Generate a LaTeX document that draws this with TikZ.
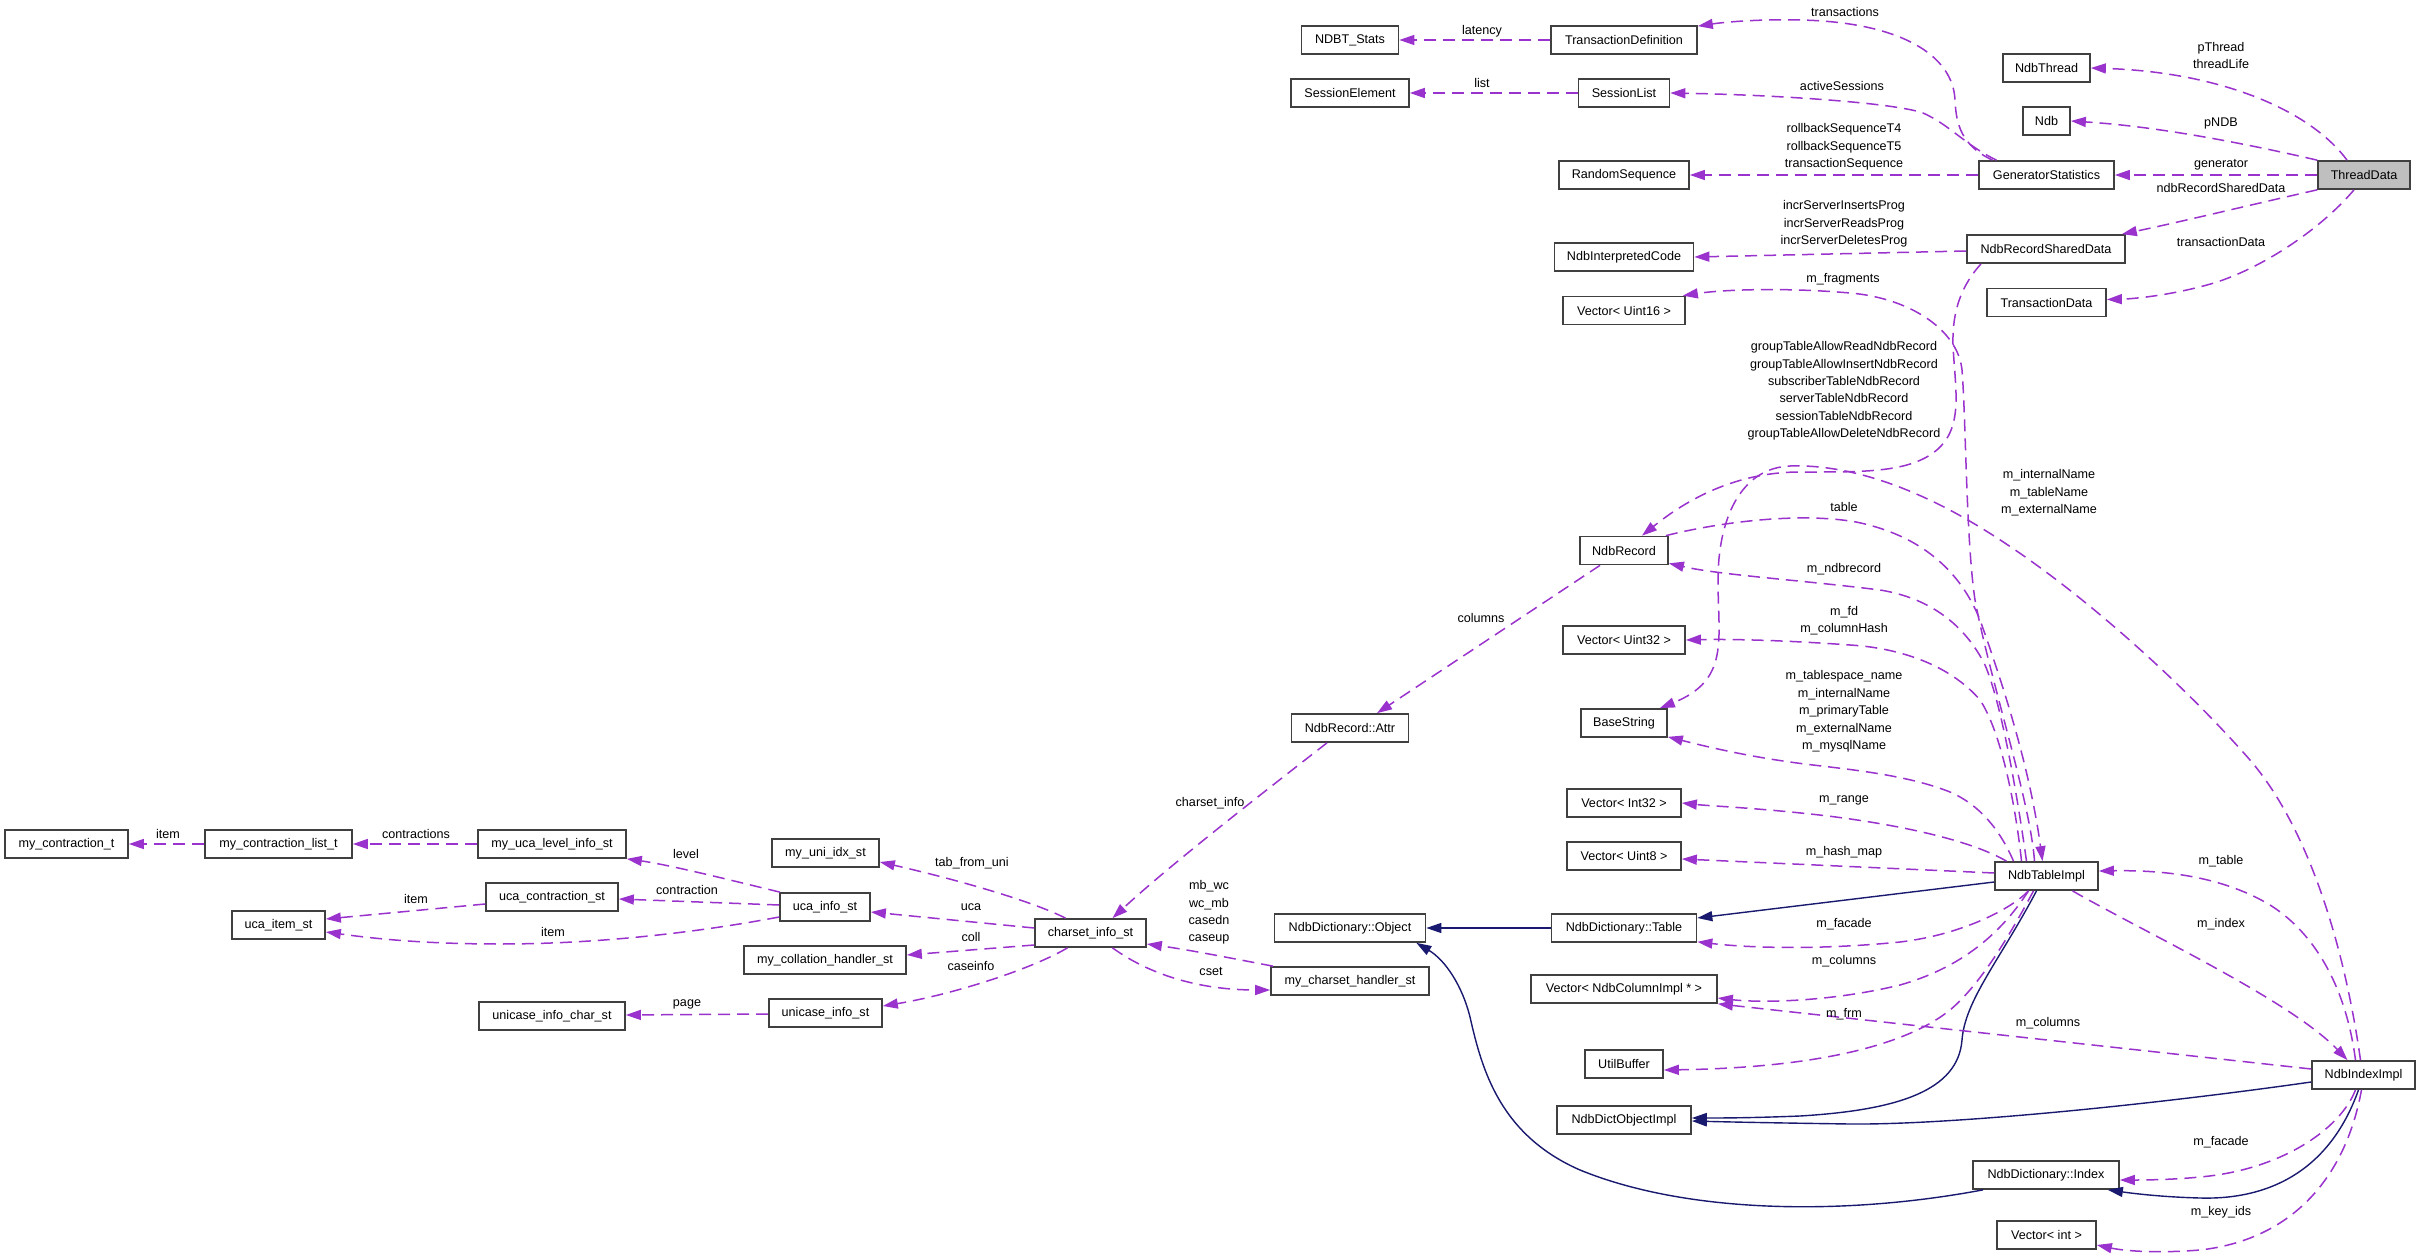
\documentclass[tikz,border=0pt]{standalone}
\usepackage{fontspec}
\setmainfont{Liberation Sans}
\usetikzlibrary{arrows.meta}
\definecolor{depc}{HTML}{9A32CD}
\definecolor{inhc}{HTML}{191970}
\definecolor{boxc}{HTML}{404040}
\newcommand\dgfont{\fontsize{12.6}{17.4}\selectfont}
\tikzset{
  box/.style={draw=boxc, line width=1.7pt, minimum height=28pt, inner sep=0pt, font=\dgfont, fill=white},
  dep/.style={draw=depc, line width=1.5pt, dash pattern=on 12pt off 7pt, -{Triangle[length=15pt,width=10pt]}},
  inh/.style={draw=inhc, line width=1.4pt, -{Triangle[length=15pt,width=10pt]}},
  lbl/.style={font=\dgfont, inner sep=0pt, align=center},
}
\begin{document}
\begin{tikzpicture}[x=1pt,y=-1pt]
\useasboundingbox (0,0) rectangle (2421,1257);
\fill[white] (0,0) rectangle (2421,1257);
% nodes
\node[box, minimum width=123pt] (mct) at (66.5,844) {my\_contraction\_t};
\node[box, minimum width=147pt] (mclt) at (278.5,844) {my\_contraction\_list\_t};
\node[box, minimum width=93pt] (ucaitem) at (278.5,925) {uca\_item\_st};
\node[box, minimum width=148pt] (ucalevel) at (552,844) {my\_uca\_level\_info\_st};
\node[box, minimum width=132pt] (ucacontr) at (552,897) {uca\_contraction\_st};
\node[box, minimum width=146pt] (unichar) at (552,1016) {unicase\_info\_char\_st};
\node[box, minimum width=107pt] (uniidx) at (825.5,853) {my\_uni\_idx\_st};
\node[box, minimum width=90pt] (ucainfo) at (825,907) {uca\_info\_st};
\node[box, minimum width=162pt] (collh) at (825,960) {my\_collation\_handler\_st};
\node[box, minimum width=113pt] (unicase) at (825.5,1013) {unicase\_info\_st};
\node[box, minimum width=111pt] (csinfo) at (1090.5,933) {charset\_info\_st};
\node[box, minimum width=97pt] (ndbtstats) at (1350,40) {NDBT\_Stats};
\node[box, minimum width=118pt] (sesselem) at (1350,93) {SessionElement};
\node[box, minimum width=117pt] (attr) at (1350,728) {NdbRecord::Attr};
\node[box, minimum width=151pt] (dobj) at (1350,928) {NdbDictionary::Object};
\node[box, minimum width=158pt] (csh) at (1350,981) {my\_charset\_handler\_st};
\node[box, minimum width=146pt] (tdef) at (1624,40) {TransactionDefinition};
\node[box, minimum width=91pt] (slist) at (1624,93) {SessionList};
\node[box, minimum width=130pt] (rseq) at (1624,175) {RandomSequence};
\node[box, minimum width=139pt] (nic) at (1624,257) {NdbInterpretedCode};
\node[box, minimum width=122pt] (vu16) at (1624,310.5) {Vector< Uint16 >};
\node[box, minimum width=88pt] (nrec) at (1624,550.5) {NdbRecord};
\node[box, minimum width=122pt] (vu32) at (1624,640) {Vector< Uint32 >};
\node[box, minimum width=86pt] (bstr) at (1624,723) {BaseString};
\node[box, minimum width=114pt] (vi32) at (1624,803) {Vector< Int32 >};
\node[box, minimum width=114pt] (vu8) at (1624,856) {Vector< Uint8 >};
\node[box, minimum width=145pt] (dtable) at (1624,928) {NdbDictionary::Table};
\node[box, minimum width=186pt] (vcol) at (1624,989) {Vector< NdbColumnImpl * >};
\node[box, minimum width=78pt] (ubuf) at (1624,1064) {UtilBuffer};
\node[box, minimum width=134pt] (doimpl) at (1624,1120) {NdbDictObjectImpl};
\node[box, minimum width=87pt] (nthread) at (2046.5,68) {NdbThread};
\node[box, minimum width=47pt] (ndb) at (2046.5,121) {Ndb};
\node[box, minimum width=135pt] (genst) at (2046.5,175) {GeneratorStatistics};
\node[box, minimum width=158pt] (nrsd) at (2046,249) {NdbRecordSharedData};
\node[box, minimum width=119pt] (tdata) at (2046.5,302.5) {TransactionData};
\node[box, minimum width=103pt] (timpl) at (2046.5,876) {NdbTableImpl};
\node[box, minimum width=146pt] (dindex) at (2046,1175) {NdbDictionary::Index};
\node[box, minimum width=99pt] (vint) at (2046.5,1235) {Vector< int >};
\node[box, fill=gray!50, minimum width=92pt] (thread) at (2364,175) {ThreadData};
\node[box, minimum width=103pt] (iimpl) at (2363.5,1075) {NdbIndexImpl};
% edges: ThreadData area
\draw[dep] (tdef.west) -- (ndbtstats.east);
\draw[dep] (slist.west) -- (sesselem.east);
\draw[dep] ([xshift=-54pt]genst.north) .. controls (1962,146) and (1956,125) .. (1955,100) .. controls (1953,55) and (1900,22) .. (1800,20) .. controls (1760,19) and (1725,22) .. ([yshift=-1pt]tdef.north east);
\draw[dep] ([xshift=-50pt]genst.north) .. controls (1965,145) and (1950,125) .. (1923,113) .. controls (1895,103) and (1780,95) .. (slist.east);
\draw[dep] (genst.west) -- (rseq.east);
\draw[dep] ([xshift=-17pt]thread.north) .. controls (2310,110) and (2220,72) .. (nthread.east);
\draw[dep] (thread.north west) .. controls (2230,140) and (2150,126) .. (ndb.east);
\draw[dep] (thread.west) -- (genst.east);
\draw[dep] (thread.south west) .. controls (2250,205) and (2180,222) .. ([xshift=-4pt]nrsd.north east);
\draw[dep] ([xshift=-10pt]thread.south) .. controls (2320,230) and (2262,268) .. (2214,283) .. controls (2170,296) and (2130,299) .. ([yshift=3pt]tdata.east);
\draw[dep] ([yshift=-2pt]nrsd.west) -- (nic.east);
\draw[dep] ([xshift=-65pt]nrsd.south) .. controls (1962,285) and (1952,310) .. (1953,345) .. controls (1955,390) and (1965,430) .. (1933,453) .. controls (1905,473) and (1860,472) .. (1800,472) .. controls (1730,472) and (1680,505) .. ([xshift=18pt]nrec.north);
% NdbTableImpl edges
\draw[dep] ([xshift=-12pt]timpl.north) .. controls (2030,800) and (1990,680) .. (1975,600) .. controls (1966,540) and (1966,420) .. (1962,370) .. controls (1958,330) and (1910,298) .. (1850,293) .. controls (1780,287) and (1720,290) .. ([xshift=-3pt]vu16.north east);
\draw[dep] ([xshift=-3pt]nrec.north east) .. controls (1720,522) and (1800,512) .. (1856,522) .. controls (1920,535) and (1960,570) .. (1980,620) .. controls (2005,690) and (2030,770) .. ([xshift=-4pt]timpl.north);
\draw[dep] ([xshift=-20pt]timpl.north) .. controls (2015,780) and (2000,700) .. (1985,665) .. controls (1965,625) and (1930,598) .. (1880,590) .. controls (1800,580) and (1720,575) .. ([yshift=2pt]nrec.south east);
\draw[dep] ([xshift=-25pt]timpl.north) .. controls (2015,800) and (2000,730) .. (1980,700) .. controls (1950,665) and (1900,648) .. (1850,645) .. controls (1780,640) and (1730,639) .. (vu32.east);
\draw[dep] ([xshift=-33pt]timpl.north) .. controls (2000,830) and (1980,805) .. (1950,792) .. controls (1900,772) and (1830,768) .. (1790,762) .. controls (1740,755) and (1700,745) .. ([yshift=1pt]bstr.south east);
\draw[dep] ([xshift=-40pt]timpl.north) .. controls (1970,840) and (1900,825) .. (1828,816) .. controls (1760,808) and (1710,806) .. (vi32.east);
\draw[dep] ([yshift=3pt]timpl.west) -- ([yshift=-3pt]vu8.east);
\draw[inh] ([yshift=-6pt]timpl.west) -- ([yshift=10pt]dtable.east);
\draw[dep] ([xshift=-18pt]timpl.south) .. controls (2010,910) and (1960,935) .. (1900,942) .. controls (1820,950) and (1750,948) .. ([yshift=1pt]dtable.south east);
\draw[dep] ([xshift=-18pt]timpl.south) .. controls (2000,935) and (1960,968) .. (1900,985) .. controls (1830,1002) and (1760,1003) .. ([yshift=-9pt]vcol.east);
\draw[dep] ([xshift=-13pt]timpl.south) .. controls (2010,935) and (1980,985) .. (1950,1010) .. controls (1900,1050) and (1800,1068) .. ([yshift=-6pt]ubuf.east);
\draw[inh] ([xshift=-10pt]timpl.south) .. controls (2000,960) and (1965,1000) .. (1962,1040) .. controls (1958,1090) and (1900,1110) .. (1800,1116) .. controls (1750,1118) and (1720,1118) .. ([yshift=2pt]doimpl.east);
\draw[dep] ([xshift=26pt]timpl.south) .. controls (2140,930) and (2290,1000) .. ([xshift=-16pt]iimpl.north);
% NdbIndexImpl edges
\draw[inh] ([yshift=-7pt]iimpl.west) .. controls (2150,1105) and (1950,1125) .. (1850,1124) .. controls (1780,1123) and (1730,1122) .. ([yshift=-1pt]doimpl.east);
\draw[dep] ([yshift=6pt]iimpl.west) -- (vcol.south east);
\draw[dep] ([xshift=-8pt]iimpl.north) .. controls (2345,980) and (2310,930) .. (2270,905) .. controls (2220,875) and (2160,870) .. ([yshift=5pt]timpl.east);
\draw[dep] ([xshift=-8pt]iimpl.south) .. controls (2340,1130) and (2280,1170) .. (2200,1177) .. controls (2170,1180) and (2140,1180) .. ([yshift=-5pt]dindex.east);
\draw[inh] ([xshift=-5pt]iimpl.south) .. controls (2330,1170) and (2270,1200) .. (2200,1198) .. controls (2160,1197) and (2130,1193) .. ([xshift=-12pt]dindex.south east);
\draw[dep] ([xshift=-2pt]iimpl.south) .. controls (2345,1180) and (2290,1240) .. (2200,1250) .. controls (2150,1254) and (2120,1250) .. ([yshift=-10pt]vint.east);
\draw[dep] ([xshift=-3pt]iimpl.north) .. controls (2345,950) and (2310,830) .. (2250,760) .. controls (2180,680) and (2050,560) .. (1940,505) .. controls (1870,470) and (1820,465) .. (1790,466) .. controls (1740,468) and (1718,520) .. (1718,580) .. controls (1718,640) and (1730,680) .. ([xshift=-8pt]bstr.north east);
\draw[inh] (dtable.west) -- (dobj.east);
\draw[inh] ([xshift=-63pt]dindex.south) .. controls (1850,1215) and (1690,1215) .. (1580,1170) .. controls (1500,1135) and (1482,1070) .. (1470,1017) .. controls (1462,985) and (1445,960) .. ([xshift=-10pt]dobj.south east);
% NdbRecord / charset edges
\draw[dep] ([xshift=-24pt]nrec.south) -- ([xshift=27pt]attr.north);
\draw[dep] ([xshift=-23pt]attr.south) .. controls (1260,795) and (1170,865) .. ([xshift=22pt]csinfo.north);
\draw[dep] ([xshift=-25pt]csinfo.north) .. controls (1030,900) and (950,878) .. ([yshift=-9pt]uniidx.east);
\draw[dep] ([yshift=5pt]csinfo.west) -- ([yshift=-5pt]ucainfo.east);
\draw[dep] ([yshift=-12pt]csinfo.west) -- ([yshift=5pt]collh.east);
\draw[dep] ([xshift=-23pt]csinfo.south) .. controls (1030,970) and (950,995) .. ([yshift=7pt]unicase.east);
\draw[dep] ([xshift=-77pt]csh.north) .. controls (1230,958) and (1190,950) .. ([yshift=-11pt]csinfo.east);
\draw[dep] ([xshift=22pt]csinfo.south) .. controls (1150,975) and (1200,990) .. ([yshift=-9pt]csh.west);
\draw[dep] ([xshift=-45pt]ucainfo.north) .. controls (730,880) and (670,865) .. (ucalevel.south east);
\draw[dep] ([yshift=2pt]ucainfo.west) -- ([yshift=-2pt]ucacontr.east);
\draw[dep] ([yshift=-10pt]ucainfo.west) .. controls (700,932) and (600,944) .. (500,944) .. controls (420,944) and (370,938) .. ([yshift=-7pt]ucaitem.east);
\draw[dep] ([yshift=-7pt]ucacontr.west) -- ([yshift=6pt]ucaitem.east);
\draw[dep] (ucalevel.west) -- (mclt.east);
\draw[dep] (mclt.west) -- (mct.east);
\draw[dep] ([yshift=-1pt]unicase.west) -- ([yshift=1pt]unichar.east);
% labels
\node[lbl] (l1) at (1482,31) {latency};
\node[lbl] (l2) at (1482,83) {list};
\node[lbl] (l3) at (1845,12) {transactions};
\node[lbl] (l4) at (1842,86) {activeSessions};
\node[lbl] (l5) at (1844,147) {rollbackSequenceT4\\rollbackSequenceT5\\transactionSequence};
\node[lbl] (l6) at (1844,224) {incrServerInsertsProg\\incrServerReadsProg\\incrServerDeletesProg};
\node[lbl] (l7) at (1843,279) {m\_fragments};
\node[lbl] (l8) at (1844,391) {groupTableAllowReadNdbRecord\\groupTableAllowInsertNdbRecord\\subscriberTableNdbRecord\\serverTableNdbRecord\\sessionTableNdbRecord\\groupTableAllowDeleteNdbRecord};
\node[lbl] (l9) at (2049,493) {m\_internalName\\m\_tableName\\m\_externalName};
\node[lbl] (l10) at (1844,507) {table};
\node[lbl] (l11) at (1844,569) {m\_ndbrecord};
\node[lbl] (l12) at (1844,620.5) {m\_fd\\m\_columnHash};
\node[lbl] (l13) at (1844,711.5) {m\_tablespace\_name\\m\_internalName\\m\_primaryTable\\m\_externalName\\m\_mysqlName};
\node[lbl] (l14) at (1844,800) {m\_range};
\node[lbl] (l15) at (1844,852) {m\_hash\_map};
\node[lbl] (l16) at (1844,924) {m\_facade};
\node[lbl] (l17) at (1844,961) {m\_columns};
\node[lbl] (l18) at (1844,1014) {m\_frm};
\node[lbl] (l19) at (2048,1023) {m\_columns};
\node[lbl] (l20) at (2221,861) {m\_table};
\node[lbl] (l21) at (2221,924) {m\_index};
\node[lbl] (l22) at (2221,1142) {m\_facade};
\node[lbl] (l23) at (2221,1212) {m\_key\_ids};
\node[lbl] (l24) at (2221,55.5) {pThread\\threadLife};
\node[lbl] (l25) at (2221,123) {pNDB};
\node[lbl] (l26) at (2221,165) {generator};
\node[lbl] (l27) at (2221,188) {ndbRecordSharedData};
\node[lbl] (l28) at (2221,242) {transactionData};
\node[lbl] (l29) at (1481,618) {columns};
\node[lbl] (l30) at (1210,803) {charset\_info};
\node[lbl] (l31) at (972,863) {tab\_from\_uni};
\node[lbl] (l32) at (971,907) {uca};
\node[lbl] (l33) at (971,937) {coll};
\node[lbl] (l34) at (971,966) {caseinfo};
\node[lbl] (l35) at (1209,912.5) {mb\_wc\\wc\_mb\\casedn\\caseup};
\node[lbl] (l36) at (1211,971) {cset};
\node[lbl] (l37) at (686,854) {level};
\node[lbl] (l38) at (687,890) {contraction};
\node[lbl] (l39) at (168,834) {item};
\node[lbl] (l40) at (416,834) {contractions};
\node[lbl] (l41) at (416,899) {item};
\node[lbl] (l42) at (553,932) {item};
\node[lbl] (l43) at (687,1004) {page};
\end{tikzpicture}
\end{document}
